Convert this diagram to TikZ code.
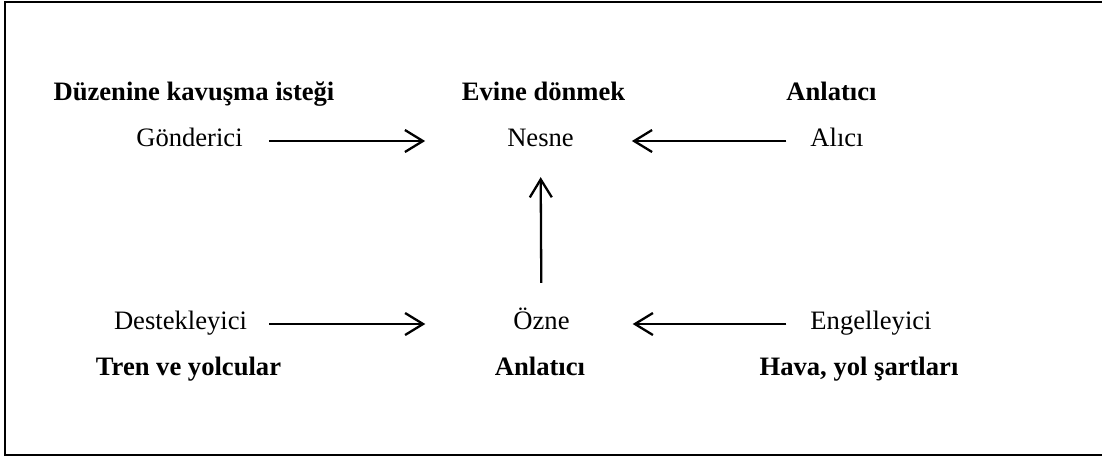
\documentclass[tikz,border=0pt]{standalone}
\usepackage{fontspec}
\setmainfont{Liberation Serif}
\usepackage{tikz}
\usetikzlibrary{arrows.meta}

\begin{document}
\begin{tikzpicture}[x=0.5pt, y=-0.5pt, line width=1.15pt,
    role/.style={anchor=base, inner sep=0pt, text height=5pt, text depth=0pt,
                 font=\fontsize{13.3pt}{16pt}\selectfont},
    filler/.style={anchor=base, inner sep=0pt,
                   font=\fontsize{13.3pt}{16pt}\selectfont\bfseries},
    arr/.style={-{Straight Barb[length=9pt, width=11pt]}, line width=1.15pt}]
    \useasboundingbox (0, 0) rectangle (1102, 457);

    % draw frame
    \draw[color=black] (1102, 2) -- (5, 2) -- (5, 455) -- (1102, 455);

    % draw actants
    \node[role] (gonderici) at (189.5, 146) {Gönderici};
    \node[role] (nesne)     at (540.5, 146) {Nesne};
    \node[role] (alici)     at (837, 146)   {Alıcı};
    \node[role] (destek)    at (180.5, 329) {Destekleyici};
    \node[role] (ozne)      at (541.5, 329) {Özne};
    \node[role] (engel)     at (871, 329)   {Engelleyici};

    % draw what fills them
    \node[filler] (duzen)  at (194, 100)   {Düzenine kavuşma isteği};
    \node[filler] (evine)  at (543.5, 100) {Evine dönmek};
    \node[filler] (anlat)  at (831.5, 100) {Anlatıcı};
    \node[filler] (tren)   at (188.5, 375) {Tren ve yolcular};
    \node[filler] (anlatb) at (540, 375)   {Anlatıcı};
    \node[filler] (hava)   at (859, 375)   {Hava, yol şartları};

    % draw arrows
    \draw[arr, shorten <=12.5pt, shorten >=40.5pt] (gonderici) -- (nesne);
    \draw[arr, shorten <=11.5pt, shorten >=28.5pt] (alici) -- (nesne);
    \draw[arr, shorten <=17.5pt, shorten >=15pt] (ozne) -- (nesne);
    \draw[arr, shorten <=10.5pt, shorten >=43.5pt] (destek) -- (ozne);
    \draw[arr, shorten <=11.5pt, shorten >=31pt] (engel) -- (ozne);

\end{tikzpicture}
\end{document}
